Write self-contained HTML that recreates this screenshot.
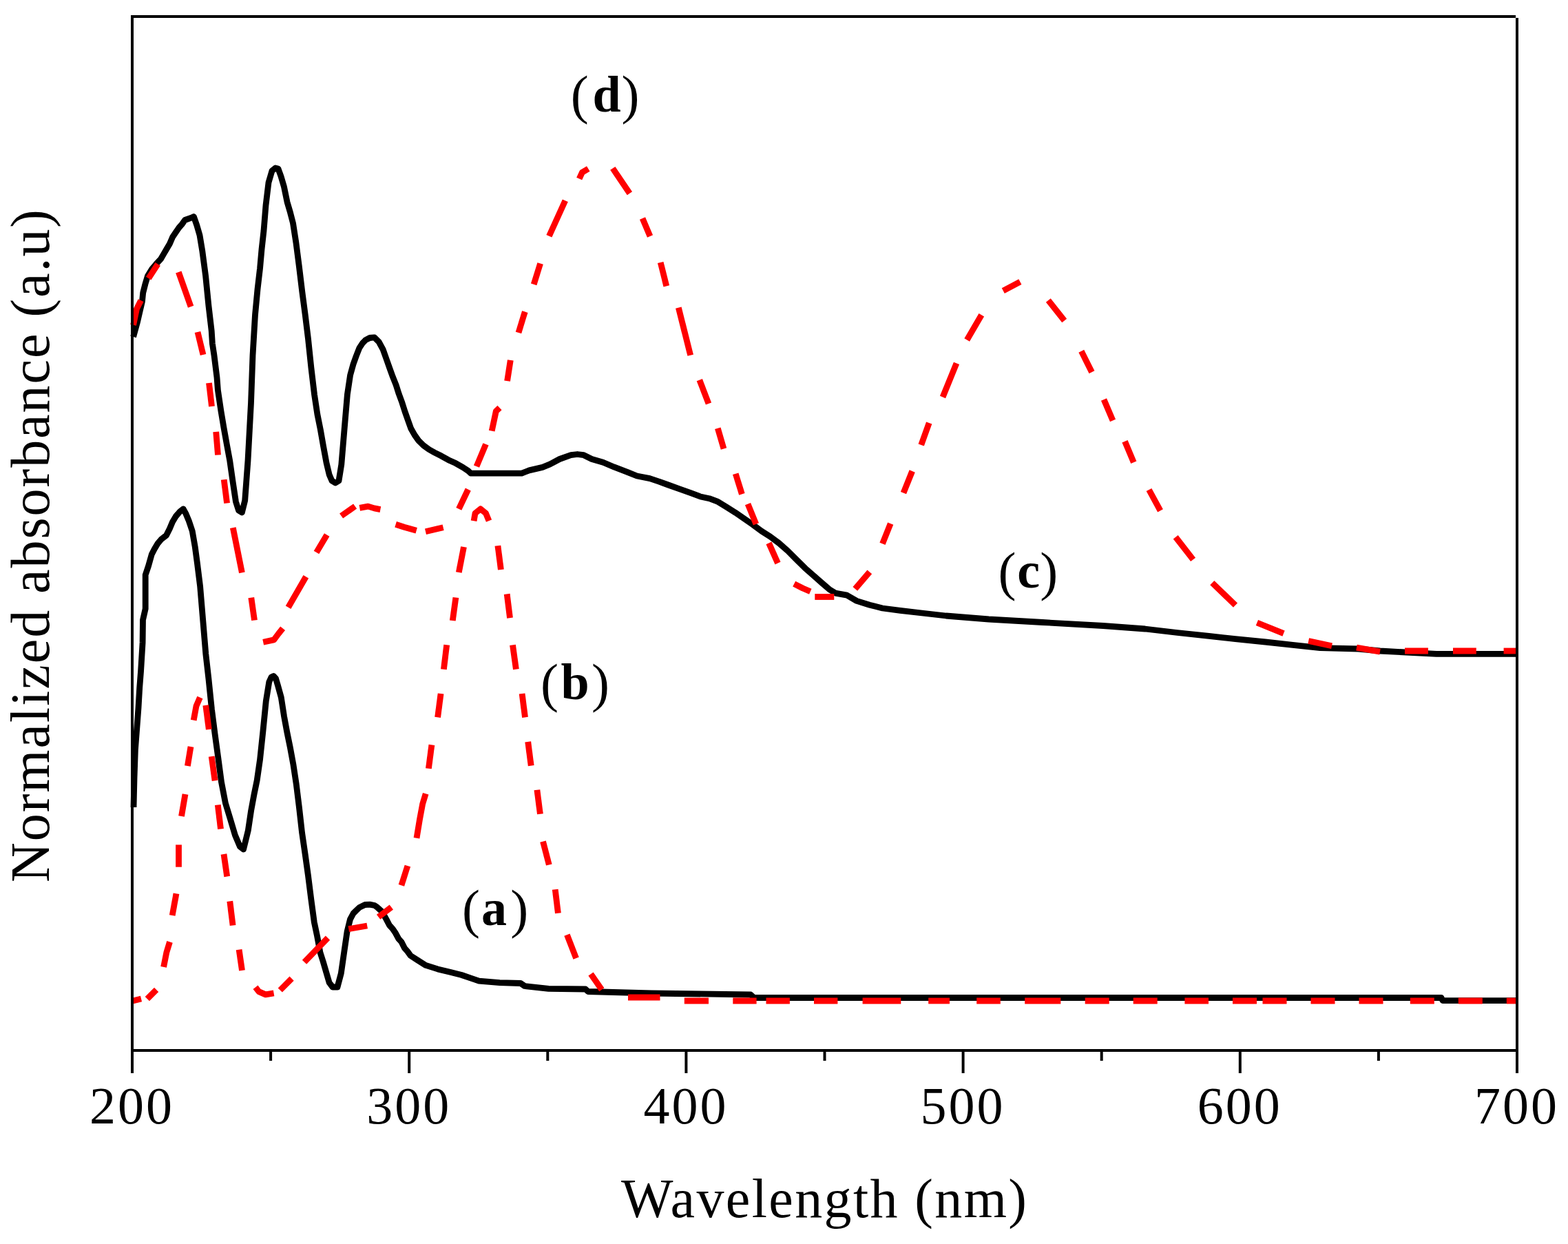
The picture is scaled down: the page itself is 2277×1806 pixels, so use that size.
<!DOCTYPE html>
<html><head><meta charset="utf-8"><title>Normalized absorbance vs wavelength</title>
<style>
html,body{margin:0;padding:0;background:#fff;}
body{width:2277px;height:1806px;overflow:hidden;}
svg{display:block;}
.k{fill:none;stroke:#000;stroke-width:8.8;stroke-linejoin:round;}
.r{fill:none;stroke:#f00;stroke-width:8.8;stroke-linejoin:round;stroke-linecap:butt;}
.ax line{stroke:#000;stroke-width:4;}
text{font-family:"Liberation Serif","Times New Roman",serif;fill:#000;}
.tl{font-size:76px;}
.ti{font-size:80px;}
.lb{font-size:74px;font-weight:bold;}
.lp{font-size:78px;}
</style></head>
<body>
<svg width="2277" height="1806" viewBox="0 0 2277 1806">
<rect width="2277" height="1806" fill="#fff"/>
<g class="curves">
<polyline class="k" points="193.6,489.0 199.7,466.8 202.8,453.3 206.5,437.4 207.7,425.1 210.8,412.8 214.5,400.5 220.6,390.7 226.8,383.3 233.5,376.0 237.8,368.6 242.1,361.2 246.4,353.9 250.7,344.0 255.6,336.7 259.9,330.5 264.2,325.6 268.5,319.5 277.1,316.4 281.4,314.5 285.7,326.8 290.0,341.6 293.7,363.7 298.6,400.5 302.9,443.5 307.2,480.3 308.4,498.8 311.0,516.0 315.0,548.0 316.4,566.4 320.9,596.6 325.0,621.1 329.4,645.5 333.8,669.3 338.2,700.2 342.5,728.5 346.5,741.0 351.4,744.0 355.7,726.6 360.0,668.7 364.5,585.0 367.0,516.0 370.5,457.0 374.0,420.0 377.5,390.0 380.0,362.0 383.0,335.0 386.0,298.0 390.0,265.0 395.0,248.0 400.0,244.0 404.0,245.0 408.0,255.9 412.5,271.3 417.0,293.2 421.5,308.6 425.5,324.0 429.9,352.3 434.4,387.1 438.9,424.4 443.2,456.8 447.5,491.9 451.9,534.0 456.5,572.6 460.9,601.6 465.3,623.5 469.6,648.1 474.0,671.8 478.2,689.3 482.0,698.0 487.0,701.0 492.0,698.0 495.8,674.4 500.2,621.8 504.4,572.6 508.6,544.6 513.0,528.8 517.4,516.5 521.9,505.1 526.5,498.1 530.9,493.7 537.0,490.5 543.7,489.8 550.2,496.3 556.3,507.7 561.6,522.6 565.7,534.3 570.4,547.2 575.1,558.9 579.2,571.8 583.9,584.6 588.0,597.5 592.6,610.4 596.7,622.0 602.0,631.4 607.8,639.6 614.9,646.6 623.0,652.5 631.2,657.1 640.6,661.8 651.1,667.7 661.8,672.6 672.0,678.4 679.8,683.5 683.6,687.1 757.6,687.1 768.5,682.9 787.8,678.4 798.8,673.9 812.6,666.5 829.0,660.7 838.4,659.5 847.7,660.7 859.4,666.5 875.8,671.2 892.2,678.2 911.0,685.3 925.0,691.0 943.6,694.6 957.7,699.3 970.4,704.0 986.8,709.8 1003.0,715.7 1017.2,721.0 1030.0,723.7 1042.6,728.4 1055.3,736.3 1067.9,744.2 1080.5,752.9 1093.2,761.6 1105.8,771.0 1118.4,779.0 1131.0,788.4 1143.7,799.5 1156.3,812.1 1169.0,824.7 1181.6,835.8 1194.2,846.9 1205.3,856.3 1213.2,861.1 1230.0,864.2 1244.0,872.4 1262.8,878.2 1281.5,883.0 1307.3,886.4 1338.7,890.0 1373.8,894.0 1435.8,899.0 1514.0,903.5 1601.9,908.5 1662.7,913.0 1709.6,918.5 1755.5,923.3 1794.0,927.7 1837.5,932.0 1877.3,936.3 1917.0,940.7 1972.5,942.0 2004.0,945.0 2086.0,949.4 2203.0,949.4"/>
<polyline class="k" points="194.0,1172.0 195.0,1130.0 196.4,1088.7 201.0,1027.8 202.7,998.4 204.6,973.8 207.1,932.9 207.5,900.0 211.2,883.7 211.2,834.6 215.6,821.5 220.2,805.1 224.3,797.0 229.2,788.8 234.1,783.0 241.5,777.3 246.4,767.5 250.5,757.7 255.4,749.5 261.1,742.9 266.1,738.8 270.1,746.2 274.2,756.0 279.2,770.8 283.2,793.7 286.5,818.2 290.6,851.0 294.7,900.1 298.8,949.2 302.9,985.3 307.5,1030.0 312.0,1065.0 316.8,1100.0 321.5,1135.4 327.4,1166.0 334.4,1189.0 341.4,1212.6 348.4,1229.0 353.6,1233.0 360.3,1205.8 364.6,1177.0 369.0,1153.2 373.2,1132.9 377.6,1102.4 381.9,1061.7 386.3,1017.6 390.8,990.0 394.0,983.0 397.3,981.5 400.5,985.0 403.6,995.6 408.3,1012.5 412.5,1039.7 416.9,1063.4 421.4,1085.4 425.8,1109.2 430.2,1138.0 434.4,1171.9 438.6,1209.2 443.4,1242.0 447.4,1270.7 451.9,1306.3 456.3,1338.9 460.6,1359.1 464.9,1382.5 469.2,1396.0 473.5,1410.7 478.2,1426.7 483.0,1433.0 490.0,1433.0 495.3,1413.2 499.9,1381.2 504.1,1352.4 508.5,1334.6 513.1,1326.0 517.5,1321.7 522.0,1317.4 530.0,1313.5 537.0,1313.1 544.0,1314.5 548.1,1317.4 554.8,1323.5 561.0,1334.6 565.5,1343.2 569.9,1348.1 574.5,1354.8 578.8,1362.8 583.1,1367.7 587.4,1376.3 591.7,1381.2 596.2,1387.4 605.7,1393.5 618.3,1401.4 635.7,1406.9 654.6,1411.6 670.4,1415.5 684.6,1420.3 695.6,1424.2 725.6,1426.6 756.0,1427.5 761.9,1431.5 796.6,1435.3 850.2,1436.0 854.0,1439.5 946.0,1442.0 1090.0,1444.0 1095.0,1448.5 2093.0,1448.5 2095.0,1452.6 2203.0,1452.6"/>
<polyline class="r" points="191.0,1453.5 205.0,1450.0"/>
<polyline class="r" points="213.8,1450.2 227.1,1436.8"/>
<polyline class="r" points="237.6,1403.9 241.8,1382.8 246.5,1367.4"/>
<polyline class="r" points="250.2,1329.0 256.0,1297.3"/>
<polyline class="r" points="259.5,1258.7 259.5,1226.4"/>
<polyline class="r" points="263.5,1185.0 269.0,1153.0"/>
<polyline class="r" points="272.4,1112.0 277.0,1084.0"/>
<polyline class="r" points="281.2,1045.6 285.0,1025.0 290.4,1012.6"/>
<polyline class="r" points="298.8,1023.9 303.3,1059.0"/>
<polyline class="r" points="307.2,1098.2 312.1,1133.3"/>
<polyline class="r" points="316.3,1168.4 320.5,1203.5"/>
<polyline class="r" points="325.0,1240.0 329.7,1272.5"/>
<polyline class="r" points="333.8,1308.4 338.1,1343.5"/>
<polyline class="r" points="347.1,1378.6 351.5,1408.8"/>
<polyline class="r" points="371.0,1433.3 375.9,1439.6 385.7,1443.9 397.6,1441.8"/>
<polyline class="r" points="406.8,1437.5 423.6,1420.7"/>
<polyline class="r" points="442.0,1396.7 476.0,1361.6"/>
<polyline class="r" points="506.3,1348.7 533.2,1344.0"/>
<polyline class="r" points="549.6,1331.2 568.3,1317.0"/>
<polyline class="r" points="582.9,1285.4 591.9,1257.0"/>
<polyline class="r" points="605.0,1216.8 609.5,1189.5 613.7,1167.0 618.2,1152.3"/>
<polyline class="r" points="622.4,1115.8 626.9,1081.4"/>
<polyline class="r" points="635.6,1041.4 640.1,1007.0"/>
<polyline class="r" points="644.4,971.7 648.7,936.3"/>
<polyline class="r" points="657.3,901.0 661.9,867.5"/>
<polyline class="r" points="666.3,831.0 673.5,794.0"/>
<polyline class="r" points="688.1,756.2 690.0,745.2 697.8,738.8 705.5,745.2 710.0,756.2"/>
<polyline class="r" points="722.9,792.2 727.4,827.0"/>
<polyline class="r" points="736.2,862.4 740.5,897.1"/>
<polyline class="r" points="744.5,936.3 749.4,971.7"/>
<polyline class="r" points="758.1,1007.0 762.5,1041.4"/>
<polyline class="r" points="766.7,1076.9 771.2,1111.6"/>
<polyline class="r" points="779.9,1146.7 784.4,1181.8"/>
<polyline class="r" points="788.5,1221.6 797.3,1255.5"/>
<polyline class="r" points="806.2,1291.3 810.4,1325.7"/>
<polyline class="r" points="823.4,1357.2 836.6,1391.1"/>
<polyline class="r" points="858.0,1414.0 873.8,1436.8"/>
<polyline class="r" points="912.0,1448.0 958.5,1448.0"/>
<polyline class="r" points="993.8,1453.0 1029.0,1453.0"/>
<polyline class="r" points="1064.3,1453.0 1098.6,1453.0"/>
<polyline class="r" points="1112.5,1453.0 1146.9,1453.0"/>
<polyline class="r" points="1182.0,1453.0 1216.4,1453.0"/>
<polyline class="r" points="1252.6,1453.0 1308.3,1453.0"/>
<polyline class="r" points="1348.2,1453.0 1379.0,1453.0"/>
<polyline class="r" points="1418.2,1453.0 1452.8,1453.0"/>
<polyline class="r" points="1488.2,1453.0 1540.3,1453.0"/>
<polyline class="r" points="1575.7,1453.0 1610.7,1453.0"/>
<polyline class="r" points="1645.7,1453.0 1680.7,1453.0"/>
<polyline class="r" points="1720.4,1453.0 1755.0,1453.0"/>
<polyline class="r" points="1790.0,1453.0 1825.0,1453.0"/>
<polyline class="r" points="1833.5,1453.0 1868.5,1453.0"/>
<polyline class="r" points="1903.5,1453.0 1938.5,1453.0"/>
<polyline class="r" points="1973.5,1453.0 2008.5,1453.0"/>
<polyline class="r" points="2047.8,1453.0 2082.8,1453.0"/>
<polyline class="r" points="2117.8,1453.0 2152.8,1453.0"/>
<polyline class="r" points="2187.8,1453.0 2203.0,1453.0"/>
<polyline class="r" points="193.6,471.8 198.5,448.4 204.6,436.1"/>
<polyline class="r" points="215.7,404.2 229.2,383.3"/>
<polyline class="r" points="259.3,395.0 277.1,445.3"/>
<polyline class="r" points="287.0,482.0 295.0,515.0"/>
<polyline class="r" points="303.5,556.0 307.5,590.0"/>
<polyline class="r" points="313.7,626.8 316.5,660.5"/>
<polyline class="r" points="325.2,696.3 329.6,730.5"/>
<polyline class="r" points="338.3,766.1 351.4,831.4"/>
<polyline class="r" points="364.8,867.7 369.5,900.5"/>
<polyline class="r" points="382.2,932.2 397.8,928.9 404.4,920.0 410.6,912.2"/>
<polyline class="r" points="418.6,881.8 444.3,837.3"/>
<polyline class="r" points="459.5,802.0 474.7,776.5"/>
<polyline class="r" points="495.6,749.0 509.0,739.6 515.6,735.0"/>
<polyline class="r" points="522.3,737.3 534.5,735.1 543.5,737.9 552.4,739.6"/>
<polyline class="r" points="574.6,761.3 586.9,765.2 604.7,770.2"/>
<polyline class="r" points="618.0,771.8 643.6,765.7"/>
<polyline class="r" points="666.3,738.8 679.8,710.5"/>
<polyline class="r" points="692.0,677.1 705.5,644.9"/>
<polyline class="r" points="714.2,625.6 720.3,597.0 725.5,592.0"/>
<polyline class="r" points="736.6,553.2 741.3,522.8"/>
<polyline class="r" points="753.0,483.0 762.3,452.6"/>
<polyline class="r" points="775.2,412.9 784.6,382.5"/>
<polyline class="r" points="797.4,342.7 820.8,291.2"/>
<polyline class="r" points="841.2,259.5 845.4,250.3 854.3,245.0"/>
<polyline class="r" points="889.8,244.4 914.4,280.7"/>
<polyline class="r" points="933.0,317.0 944.0,343.0"/>
<polyline class="r" points="959.2,381.0 967.8,415.4"/>
<polyline class="r" points="985.3,446.6 1002.7,515.8"/>
<polyline class="r" points="1015.8,551.6 1029.0,586.0"/>
<polyline class="r" points="1042.3,621.8 1051.0,651.4"/>
<polyline class="r" points="1068.2,687.7 1077.4,717.4"/>
<polyline class="r" points="1086.0,731.6 1097.9,760.8"/>
<polyline class="r" points="1116.5,788.4 1129.5,817.6"/>
<polyline class="r" points="1153.2,847.6 1165.8,854.0 1176.8,858.7"/>
<polyline class="r" points="1183.3,866.5 1211.3,866.5"/>
<polyline class="r" points="1241.8,854.9 1262.8,830.3"/>
<polyline class="r" points="1281.5,789.4 1293.2,760.1"/>
<polyline class="r" points="1312.0,715.7 1324.7,684.0"/>
<polyline class="r" points="1337.7,646.0 1349.2,614.0"/>
<polyline class="r" points="1369.0,576.5 1389.0,527.4"/>
<polyline class="r" points="1404.2,493.5 1425.3,457.2"/>
<polyline class="r" points="1456.8,422.1 1481.4,409.2"/>
<polyline class="r" points="1522.3,436.1 1545.7,465.4"/>
<polyline class="r" points="1570.3,509.8 1585.5,540.2"/>
<polyline class="r" points="1603.0,580.0 1616.0,610.4"/>
<polyline class="r" points="1633.5,640.8 1646.3,671.2"/>
<polyline class="r" points="1668.5,711.0 1685.0,741.4"/>
<polyline class="r" points="1707.2,779.8 1732.6,812.4"/>
<polyline class="r" points="1760.3,846.1 1794.0,878.7"/>
<polyline class="r" points="1825.4,904.0 1864.0,919.7"/>
<polyline class="r" points="1900.2,930.5 1934.0,937.8"/>
<polyline class="r" points="1970.0,940.2 2004.0,946.2"/>
<polyline class="r" points="2040.0,945.0 2073.9,945.0"/>
<polyline class="r" points="2110.0,945.0 2143.8,945.0"/>
<polyline class="r" points="2183.6,945.0 2203.0,945.0"/>
</g>
<g class="ax">
<line x1="192" y1="22" x2="192" y2="1558"/>
<line x1="190" y1="24" x2="2201" y2="24"/>
<line x1="2203" y1="26" x2="2203" y2="1558"/>
<line x1="190" y1="1525" x2="2205" y2="1525"/>
<line x1="192.0" y1="1525" x2="192.0" y2="1558"/>
<line x1="594.2" y1="1525" x2="594.2" y2="1558"/>
<line x1="996.4" y1="1525" x2="996.4" y2="1558"/>
<line x1="1398.6" y1="1525" x2="1398.6" y2="1558"/>
<line x1="1800.8" y1="1525" x2="1800.8" y2="1558"/>
<line x1="2203.0" y1="1525" x2="2203.0" y2="1558"/>
<line x1="393.1" y1="1525" x2="393.1" y2="1540"/>
<line x1="795.3" y1="1525" x2="795.3" y2="1540"/>
<line x1="1197.5" y1="1525" x2="1197.5" y2="1540"/>
<line x1="1599.7" y1="1525" x2="1599.7" y2="1540"/>
<line x1="2001.9" y1="1525" x2="2001.9" y2="1540"/>
</g>
<g class="labels">
<text x="190.0" y="1631" text-anchor="middle" class="tl" textLength="120" lengthAdjust="spacing">200</text>
<text x="592.2" y="1631" text-anchor="middle" class="tl" textLength="120" lengthAdjust="spacing">300</text>
<text x="994.4" y="1631" text-anchor="middle" class="tl" textLength="120" lengthAdjust="spacing">400</text>
<text x="1396.6" y="1631" text-anchor="middle" class="tl" textLength="120" lengthAdjust="spacing">500</text>
<text x="1798.8" y="1631" text-anchor="middle" class="tl" textLength="120" lengthAdjust="spacing">600</text>
<text x="2201.0" y="1631" text-anchor="middle" class="tl" textLength="120" lengthAdjust="spacing">700</text>
<text x="1196.5" y="1767" text-anchor="middle" class="ti" textLength="589" lengthAdjust="spacing">Wavelength (nm)</text>
<text transform="translate(71.3,792.5) rotate(-90)" text-anchor="middle" class="ti" textLength="977" lengthAdjust="spacing">Normalized absorbance (a.u)</text>
<text><tspan x="828.8" y="163.5" class="lp">(</tspan><tspan x="860.6" y="162.0" class="lb">d</tspan><tspan x="902.5" y="163.5" class="lp">)</tspan></text>
<text><tspan x="1449.5" y="855.5" class="lp">(</tspan><tspan x="1477.3" y="853.0" class="lb">c</tspan><tspan x="1510.3" y="855.5" class="lp">)</tspan></text>
<text><tspan x="784.9" y="1017.5" class="lp">(</tspan><tspan x="814.5" y="1015.0" class="lb">b</tspan><tspan x="859.0" y="1017.5" class="lp">)</tspan></text>
<text><tspan x="671.1" y="1345.5" class="lp">(</tspan><tspan x="698.9" y="1343.0" class="lb">a</tspan><tspan x="741.3" y="1345.5" class="lp">)</tspan></text>
</g>
</svg>
</body></html>
